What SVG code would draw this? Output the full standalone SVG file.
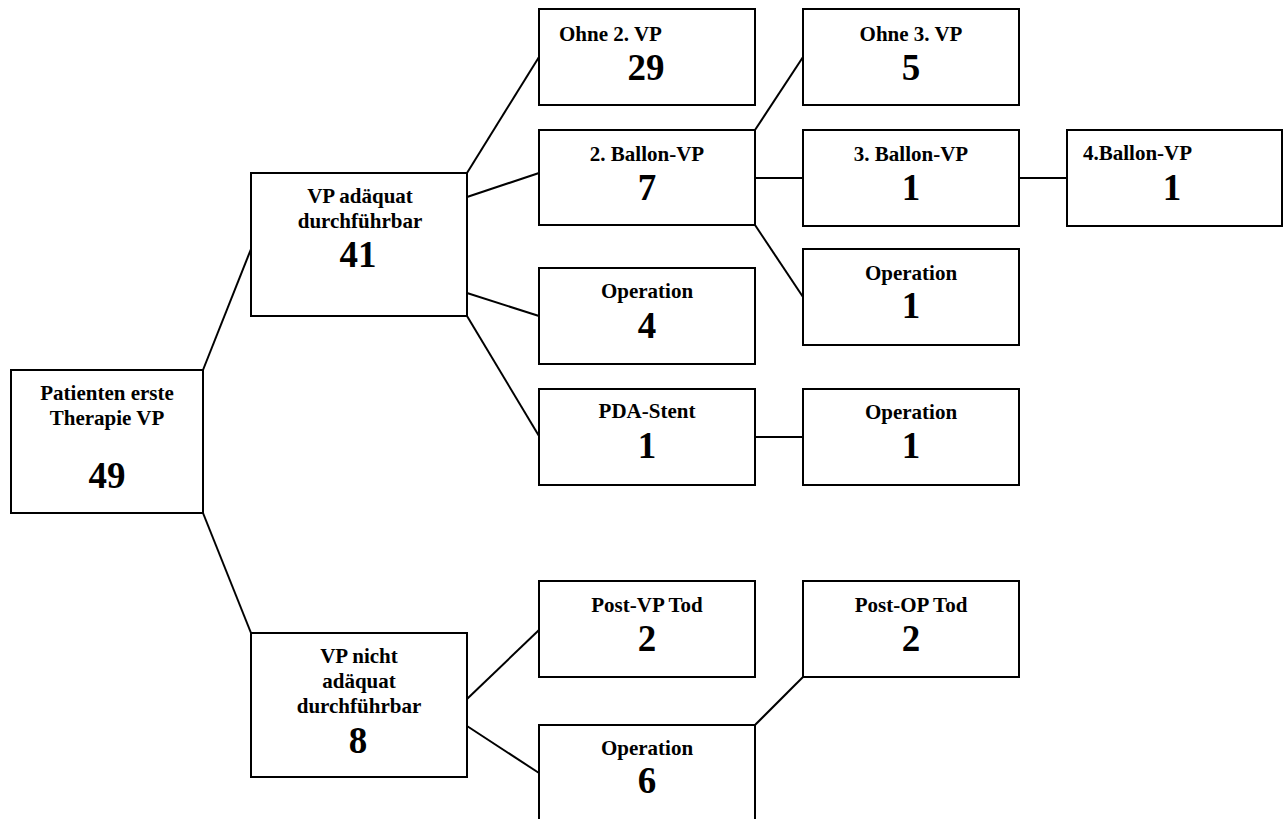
<svg xmlns="http://www.w3.org/2000/svg" width="1288" height="819" viewBox="0 0 1288 819">
<style>
.box{fill:#fff;stroke:#000;stroke-width:2}
.ln{stroke:#000;stroke-width:2;fill:none}
text{font-family:"Liberation Serif","Times New Roman",serif;font-weight:bold;fill:#000;text-anchor:middle}
.lb{font-size:21px}
.nm{font-size:37px}
</style>
<rect width="1288" height="819" fill="#fff"/>
<g id="connectors">
<line class="ln" x1="203" y1="370" x2="251" y2="249"/>
<line class="ln" x1="203" y1="513" x2="251" y2="633"/>
<line class="ln" x1="467" y1="173" x2="539" y2="57"/>
<line class="ln" x1="467" y1="197" x2="539" y2="173"/>
<line class="ln" x1="467" y1="293" x2="539" y2="316"/>
<line class="ln" x1="467" y1="316" x2="539" y2="436"/>
<line class="ln" x1="755" y1="130" x2="803" y2="57"/>
<line class="ln" x1="755" y1="178" x2="803" y2="178"/>
<line class="ln" x1="755" y1="225" x2="803" y2="297"/>
<line class="ln" x1="1019" y1="178" x2="1067" y2="178"/>
<line class="ln" x1="755" y1="437" x2="803" y2="437"/>
<line class="ln" x1="467" y1="699" x2="539" y2="630"/>
<line class="ln" x1="467" y1="726" x2="539" y2="773"/>
<line class="ln" x1="755" y1="725" x2="803" y2="677"/>
</g>
<g id="root">
<rect class="box" x="11" y="370" width="192" height="143"/>
<text class="lb" x="107" y="400">Patienten erste</text>
<text class="lb" x="107" y="425">Therapie VP</text>
<text class="nm" x="107" y="488">49</text>
</g>
<g id="vp-adaequat">
<rect class="box" x="251" y="173" width="216" height="143"/>
<text class="lb" x="360" y="203">VP adäquat</text>
<text class="lb" x="360" y="228">durchführbar</text>
<text class="nm" x="358" y="267">41</text>
</g>
<g id="vp-nicht">
<rect class="box" x="251" y="633" width="216" height="144"/>
<text class="lb" x="359" y="663">VP nicht</text>
<text class="lb" x="359" y="688">adäquat</text>
<text class="lb" x="359" y="713">durchführbar</text>
<text class="nm" x="358" y="753">8</text>
</g>
<g id="ohne2">
<rect class="box" x="539" y="9" width="216" height="96"/>
<text class="lb" x="559" y="41" style="text-anchor:start">Ohne 2. VP</text>
<text class="nm" x="646" y="80">29</text>
</g>
<g id="ballon2">
<rect class="box" x="539" y="130" width="216" height="95"/>
<text class="lb" x="647" y="161">2. Ballon-VP</text>
<text class="nm" x="647" y="200">7</text>
</g>
<g id="op4">
<rect class="box" x="539" y="268" width="216" height="96"/>
<text class="lb" x="647" y="298">Operation</text>
<text class="nm" x="647" y="338">4</text>
</g>
<g id="pda">
<rect class="box" x="539" y="389" width="216" height="96"/>
<text class="lb" x="647" y="418">PDA-Stent</text>
<text class="nm" x="647" y="458">1</text>
</g>
<g id="postvp">
<rect class="box" x="539" y="581" width="216" height="96"/>
<text class="lb" x="647" y="612">Post-VP Tod</text>
<text class="nm" x="647" y="651">2</text>
</g>
<g id="op6">
<rect class="box" x="539" y="725" width="216" height="97"/>
<text class="lb" x="647" y="755">Operation</text>
<text class="nm" x="647" y="793">6</text>
</g>
<g id="ohne3">
<rect class="box" x="803" y="9" width="216" height="96"/>
<text class="lb" x="911" y="41">Ohne 3. VP</text>
<text class="nm" x="911" y="80">5</text>
</g>
<g id="ballon3">
<rect class="box" x="803" y="130" width="216" height="96"/>
<text class="lb" x="911" y="161">3. Ballon-VP</text>
<text class="nm" x="911" y="200">1</text>
</g>
<g id="op1a">
<rect class="box" x="803" y="249" width="216" height="96"/>
<text class="lb" x="911" y="280">Operation</text>
<text class="nm" x="911" y="318">1</text>
</g>
<g id="op1b">
<rect class="box" x="803" y="389" width="216" height="96"/>
<text class="lb" x="911" y="419">Operation</text>
<text class="nm" x="911" y="458">1</text>
</g>
<g id="ballon4">
<rect class="box" x="1067" y="130" width="215" height="96"/>
<text class="lb" x="1083" y="160" style="text-anchor:start">4.Ballon-VP</text>
<text class="nm" x="1172" y="200">1</text>
</g>
<g id="postop">
<rect class="box" x="803" y="581" width="216" height="96"/>
<text class="lb" x="911" y="612">Post-OP Tod</text>
<text class="nm" x="911" y="651">2</text>
</g>
</svg>
